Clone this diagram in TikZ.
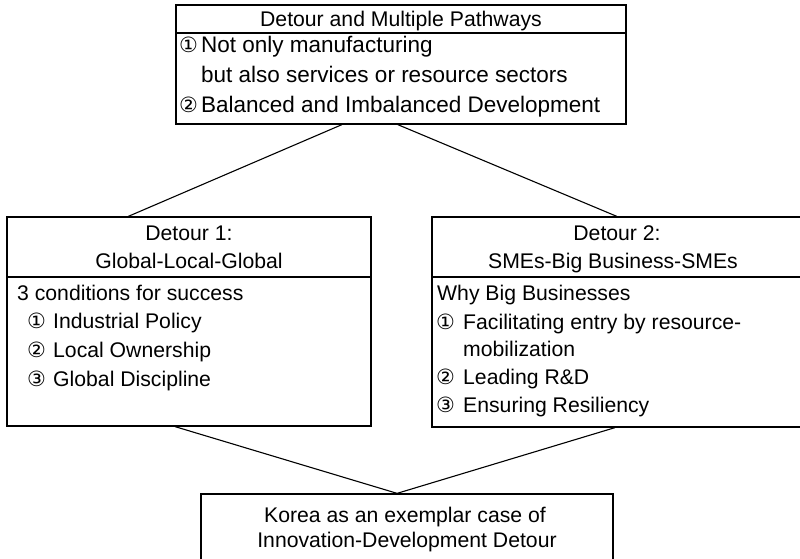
\documentclass[tikz,border=0pt]{standalone}
\usepackage{fontspec}
\setmainfont{Liberation Sans}
\newfontfamily\circfont{DejaVu Sans}
\usetikzlibrary{fit,calc}
\newcommand{\cnum}[1]{{\circfont\fontsize{21}{21}\selectfont #1}}

\begin{document}
\begin{tikzpicture}[x=1pt,y=-1pt,
  frame/.style={draw, line width=1.3pt, inner sep=0pt},
  rule/.style={line width=1.3pt},
  link/.style={line width=1.1pt},
  txt/.style={anchor=base west, inner sep=0pt, font=\fontsize{21.2}{26}\selectfont},
  bigtxt/.style={txt, font=\fontsize{22.5}{27}\selectfont},
  ctxt/.style={anchor=base, inner sep=0pt, font=\fontsize{21.2}{26}\selectfont},
  num/.style={anchor=base west, inner sep=0pt}]
\useasboundingbox (0,0) rectangle (800,559);
\clip (0,0) rectangle (800,559);

% boxes
\coordinate (tA) at (176,5);   \coordinate (tB) at (626,124);
\coordinate (lA) at (7,217);   \coordinate (lB) at (371,426);
\coordinate (rA) at (432,217); \coordinate (rB) at (803,427);
\coordinate (bA) at (201,494); \coordinate (bB) at (613,575);
\node[frame, fit=(tA)(tB)] (top) {};
\node[frame, fit=(lA)(lB)] (left) {};
\node[frame, fit=(rA)(rB)] (right) {};
\node[frame, fit=(bA)(bB)] (bottom) {};

% header rules
\coordinate (ty) at (0,33);
\coordinate (sy) at (0,277);
\draw[rule] (top.west |- ty) -- (top.east |- ty);
\draw[rule] (left.west |- sy) -- (left.east |- sy);
\draw[rule] (right.west |- sy) -- (right.east |- sy);

% top box text
\node[ctxt] (th) at (401,27) {Detour and Multiple Pathways};
\node[num] (tn1) at (179,53) {\cnum{①}};
\node[bigtxt] (tl1) at (201,53) {Not only manufacturing};
\node[bigtxt] (tl2) at (201,83) {but also services or resource sectors};
\node[num] (tn2) at (179,113) {\cnum{②}};
\node[bigtxt] (tl3) at (201,113) {Balanced and Imbalanced Development};

% left box text
\node[ctxt] (lh1) at (189,240) {Detour 1:};
\node[ctxt] (lh2) at (189,268) {Global-Local-Global};
\node[txt] (lb0) at (17,300) {3 conditions for success};
\node[num] (ln1) at (27,328) {\cnum{①}};
\node[txt] (lb1) at (53,328) {Industrial Policy};
\node[num] (ln2) at (27,357) {\cnum{②}};
\node[txt] (lb2) at (53,357) {Local Ownership};
\node[num] (ln3) at (27,386) {\cnum{③}};
\node[txt] (lb3) at (53,386) {Global Discipline};

% right box text
\node[ctxt] (rh1) at (617,240) {Detour 2:};
\node[ctxt] (rh2) at (613,268) {SMEs-Big Business-SMEs};
\node[txt] (rb0) at (437,300) {Why Big Businesses};
\node[num] (rn1) at (436,329) {\cnum{①}};
\node[txt] (rb1) at (463,329) {Facilitating entry by resource-};
\node[txt] (rb1b) at (463,356) {mobilization};
\node[num] (rn2) at (436,384) {\cnum{②}};
\node[txt] (rb2) at (463,384) {Leading R\&D};
\node[num] (rn3) at (436,412) {\cnum{③}};
\node[txt] (rb3) at (463,412) {Ensuring Resiliency};

% bottom box text
\node[ctxt] (bh1) at (405,522) {Korea as an exemplar case of};
\node[ctxt] (bh2) at (407,547) {Innovation-Development Detour};

% connectors
\draw[link] ($(top.south west)!0.369!(top.south east)$) -- ($(left.north west)!0.334!(left.north east)$);
\draw[link] ($(top.south west)!0.493!(top.south east)$) -- ($(right.north west)!0.498!(right.north east)$);
\draw[link] ($(left.south west)!0.462!(left.south east)$) -- ($(bottom.north west)!0.476!(bottom.north east)$);
\draw[link] ($(right.south west)!0.493!(right.south east)$) -- ($(bottom.north west)!0.476!(bottom.north east)$);
\end{tikzpicture}
\end{document}
